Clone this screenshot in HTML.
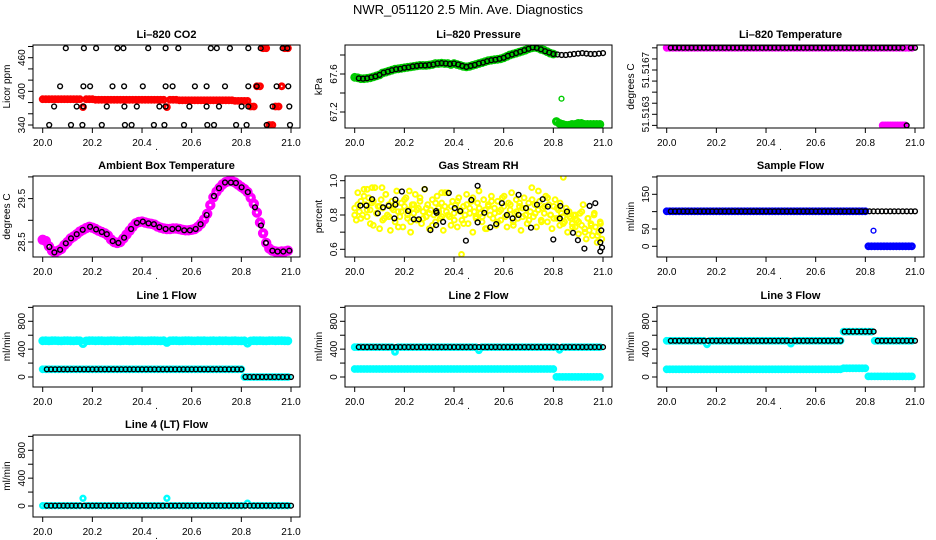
<!DOCTYPE html>
<html><head><meta charset="utf-8"><style>
html,body{margin:0;padding:0;background:#fff;}
svg{display:block;font-family:"Liberation Sans",Arial,sans-serif;}
</style></head><body>
<svg id="chart" width="936" height="540" viewBox="0 0 936 540" xmlns="http://www.w3.org/2000/svg">
<rect x="0" y="0" width="936" height="540" fill="#fff"/>
<text x="468" y="14" text-anchor="middle" font-size="13">NWR_051120  2.5 Min. Ave. Diagnostics</text>
</svg>
<script>
// ---- data (uniform series: t = 20 + i/(n-1)) ----
const xTicks = [20.0, 20.2, 20.4, 20.6, 20.8, 21.0];
const xTickLabels = ["20.0", "20.2", "20.4", "20.6", "20.8", "21.0"];

const co2BlackT = [20.093,20.166,20.215,20.301,20.325,20.425,20.495,20.546,20.677,20.701,20.754,20.828,20.878,20.966,20.985,
 20.070,20.164,20.191,20.281,20.328,20.403,20.495,20.523,20.613,20.660,20.734,20.828,20.862,20.942,20.989,
 20.046,20.137,20.164,20.258,20.329,20.379,20.470,20.495,20.591,20.660,20.710,20.801,20.828,20.926,20.993,
 20.026,20.114,20.160,20.238,20.331,20.358,20.448,20.490,20.569,20.663,20.690,20.779,20.821,20.902,20.996];
const co2BlackV = [477,477,477,477,477,477,477,477,477,477,477,477,477,477,477,
 409,409,409,409,409,409,409,409,409,409,409,409,409,409,409,
 373,373,373,373,373,373,373,373,373,373,373,373,373,373,373,
 340,340,340,340,340,340,340,340,340,340,340,340,340,340,340];
const co2Red = [386,386,386,386,386,386,386,386,386,386, 386,386,386,372,386,386,386,385,385,385,
 385,385,385,385,385,385,385,385,385,385, 385,385,385,385,385,385,385,385,385,385,
 372,385,385,385,384,384,384,384,384,384, 384,384,384,384,384,384,384,384,384,384,
 384,384,383,383,383,383,383,373,373,409, 409,477,477,340,340,373,373,409,477,477, null];

const presGreen = [67.565,67.56,67.55,67.55,67.555,67.56,67.57,67.58,67.59,67.61,
 67.62,67.63,67.64,67.65,67.655,67.66,67.665,67.67,67.675,67.68,
 67.685,67.69,67.69,67.69,67.695,67.70,67.71,67.71,67.715,67.71,
 67.71,67.70,67.71,67.70,67.69,67.68,67.675,67.68,67.69,67.70,
 67.71,67.72,67.73,67.74,67.745,67.75,67.755,67.76,67.77,67.785,
 67.80,67.81,67.82,67.83,67.84,67.85,67.865,67.875,67.88,67.875,
 67.86,67.85,67.835,67.82,67.81,67.10,67.08,67.07,67.06,67.06,
 67.07,67.07,67.08,67.08,67.07,67.07,67.07,67.07,67.07,67.07, null];
const presGreenOutT = [20.833];
const presGreenOutV = [67.34];
const presBlack = [null,67.555,67.55,67.555,67.565,67.575,67.59,67.615,67.625,67.64,
 67.65,67.655,67.665,67.67,67.68,67.685,67.69,67.69,67.695,67.70,
 67.71,67.715,67.71,67.705,67.71,67.70,67.685,67.675,67.685,67.695,
 67.71,67.72,67.735,67.745,67.75,67.76,67.77,67.79,67.805,67.82,
 67.835,67.85,67.865,67.88,67.875,67.86,67.84,67.825,67.81,67.805,
 67.80,67.80,67.805,67.81,67.815,67.82,67.815,67.81,67.81,67.815,67.82];

const tempMag = [51.5169,51.5169,51.5169,51.5169,51.5169,51.5169,51.5169,51.5169,51.5169,51.5169,
 51.5169,51.5169,51.5169,51.5169,51.5169,51.5169,51.5169,51.5169,51.5169,51.5169,
 51.5169,51.5169,51.5169,51.5169,51.5169,51.5169,51.5169,51.5169,51.5169,51.5169,
 51.5169,51.5169,51.5169,51.5169,51.5169,51.5169,51.5169,51.5169,51.5169,51.5169,
 51.5169,51.5169,51.5169,51.5169,51.5169,51.5169,51.5169,51.5169,51.5169,51.5169,
 51.5169,51.5169,51.5169,51.5169,51.5169,51.5169,51.5169,51.5169,51.5169,51.5169,
 51.5169,51.5169,51.5169,51.5169,51.5169,51.5169,51.5169,51.5169,51.5169,51.5169,
 51.5169,51.5169,51.5169,51.5169,51.5169,51.5169,51.5169,51.5169,51.5169,51.5169, null];
const tempMagLowT = [20.87,20.88,20.89,20.90,20.91,20.92,20.93,20.94,20.95,20.96];
const tempMagLowV = [51.5162,51.5162,51.5162,51.5162,51.5162,51.5162,51.5162,51.5162,51.5162,51.5162];
const tempBlack = [null,51.5169,51.5169,51.5169,51.5169,51.5169,51.5169,51.5169,51.5169,51.5169,
 51.5169,51.5169,51.5169,51.5169,51.5169,51.5169,51.5169,51.5169,51.5169,51.5169,
 51.5169,51.5169,51.5169,51.5169,51.5169,51.5169,51.5169,51.5169,51.5169,51.5169,
 51.5169,51.5169,51.5169,51.5169,51.5169,51.5169,51.5169,51.5169,51.5169,51.5169,
 51.5169,51.5169,51.5169,51.5169,51.5169,51.5169,51.5169,51.5169,51.5169,51.5169,
 51.5169,51.5169,51.5169,51.5169,51.5169,51.5169,51.5169,51.5169,51.5162,51.5169,51.5169];

const ambMag = [28.55,28.52,28.40,28.30,28.26,28.30,28.34,28.43,28.50,28.58,
 28.63,28.68,28.74,28.78,28.82,28.85,28.83,28.80,28.76,28.73,
 28.70,28.65,28.56,28.50,28.48,28.50,28.58,28.67,28.76,28.85,
 28.93,28.96,28.97,28.95,28.93,28.92,28.90,28.86,28.83,28.81,
 28.80,28.80,28.81,28.81,28.80,28.78,28.77,28.77,28.78,28.80,
 28.85,28.92,29.02,29.15,29.35,29.53,29.66,29.75,29.83,29.88,
 29.90,29.90,29.87,29.82,29.77,29.72,29.65,29.52,29.38,29.18,
 28.95,28.70,28.48,28.35,28.30,28.28,28.27,28.28,28.28,28.30, null];
const ambBlackT = [20.027,20.047,20.070,20.093,20.114,20.137,20.161,20.191,20.215,20.238,20.258,20.282,20.305,20.328,20.356,20.379,20.403,20.426,20.448,20.470,
 20.495,20.522,20.546,20.570,20.593,20.616,20.636,20.660,20.690,20.710,20.734,20.758,20.778,20.801,20.826,20.855,20.879,20.899,20.925,20.946,20.969,20.993];
const ambBlackV = [28.385,28.26,28.32,28.47,28.585,28.68,28.78,28.85,28.79,28.73,28.68,28.52,28.48,28.60,28.80,28.94,28.97,28.93,28.91,28.84,
 28.80,28.80,28.81,28.77,28.77,28.80,28.91,29.12,29.56,29.74,29.87,29.87,29.86,29.76,29.65,29.30,28.88,28.48,28.30,28.28,28.28,28.30];

const rhYellow = [0.84,0.77,0.93,0.82,0.88,0.80,0.95,0.86,0.79,0.90,0.83,0.87,0.74,0.96,0.81,0.85,0.72,0.89,0.84,0.78,
 0.92,0.80,0.86,0.71,0.88,0.83,0.76,0.94,0.82,0.79,0.87,0.73,0.85,0.90,0.78,0.83,0.70,0.86,0.81,0.92,
 0.77,0.84,0.88,0.75,0.82,0.95,0.79,0.86,0.72,0.83,0.89,0.80,0.76,0.91,0.84,0.78,0.87,0.71,0.85,0.82,
 0.93,0.79,0.74,0.88,0.81,0.86,0.73,0.90,0.83,0.77,0.85,0.80,0.92,0.75,0.84,0.88,0.70,0.82,0.79,0.87,
 0.94,0.81,0.76,0.89,0.83,0.72,0.86,0.80,0.91,0.78,0.84,0.74,0.88,0.82,0.77,0.90,0.85,0.79,0.73,0.87,
 0.83,0.93,0.76,0.81,0.89,0.78,0.85,0.71,0.84,0.90,0.80,0.75,0.87,0.82,0.96,0.79,0.86,0.73,0.83,0.88,
 0.77,0.84,0.81,0.91,0.76,0.86,0.80,0.72,0.85,0.89,0.78,0.83,0.74,0.81,0.79,0.76,0.84,0.70,0.82,0.78,
 0.75,0.80,0.73,0.77,0.69,0.81,0.74,0.86,0.72,0.66,0.78,0.71,0.75,0.68,0.80,0.73,0.64,0.70,0.76,0.66];
const rhYellowB = [0.80,0.86,0.78,0.91,0.83,0.75,0.88,0.81,0.85,0.77,0.92,0.79,0.84,0.87,0.73,0.82,0.89,0.80,0.76,0.86,
 0.83,0.90,0.78,0.84,0.81,0.74,0.87,0.82,0.79,0.93,0.80,0.85,0.77,0.88,0.82,0.75,0.86,0.81,0.90,0.78,
 0.84,0.79,0.72,0.85,0.88,0.81,0.76,0.83,0.91,0.80,0.86,0.74,0.82,0.87,0.79,0.84,0.77,0.89,0.81,0.83,
 0.76,0.85,0.90,0.80,0.78,0.84,0.87,0.75,0.82,0.79,0.73,0.80,0.76,0.82,0.70,0.78,0.74,0.81,0.68,0.75];
const rhYellowOutT = [20.43,20.84,20.05,20.07,20.11,20.74,20.35,20.22];
const rhYellowOutV = [0.57,1.02,0.95,0.96,0.96,0.94,0.93,0.94];
const rhBlackT = [20.023,20.047,20.070,20.093,20.114,20.137,20.160,20.164,20.164,20.190,20.215,20.238,20.258,20.282,20.305,20.328,20.328,20.330,20.356,20.379,
 20.403,20.425,20.448,20.470,20.495,20.495,20.522,20.546,20.570,20.593,20.613,20.636,20.660,20.660,20.690,20.710,20.734,20.757,20.778,20.800,
 20.826,20.828,20.855,20.879,20.899,20.925,20.946,20.969,20.993,20.989,20.989,20.996];
const rhBlackV = [0.855,0.855,0.892,0.81,0.845,0.853,0.78,0.89,0.86,0.937,0.823,0.775,0.775,0.951,0.712,0.823,0.741,0.813,0.76,0.928,
 0.84,0.823,0.65,0.888,0.757,0.97,0.813,0.728,0.747,0.869,0.80,0.78,0.80,0.918,0.84,0.726,0.86,0.892,0.849,0.657,
 0.78,0.853,0.82,0.696,0.653,0.604,0.853,0.869,0.71,0.64,0.588,0.61];

const sfBlue = [101,101,101,101,101,101,101,101,101,101, 101,101,101,101,101,101,101,101,101,101,
 101,101,101,101,101,101,101,101,101,101, 101,101,101,101,101,101,101,101,101,101,
 101,101,101,101,101,101,101,101,101,101, 101,101,101,101,101,101,101,101,101,101,
 101,101,101,101,101,0,0,0,0,0, 0,0,0,0,0,0,0,0,0,0, null];
const sfBlueOutT = [20.833];
const sfBlueOutV = [45];
const sfBlack = [null,101,101,101,101,101,101,101,101,101, 101,101,101,101,101,101,101,101,101,101,
 101,101,101,101,101,101,101,101,101,101, 101,101,101,101,101,101,101,101,101,101,
 101,101,101,101,101,101,101,101,101,101, 101,101,101,101,101,101,101,101,101,101,101];

const l1CyanA = [520,522,518,521,523,520,519,522,521,520, 518,522,520,480,519,521,523,520,522,521,
 519,520,522,521,520,518,521,523,520,519, 522,521,520,518,520,522,521,520,519,521,
 495,520,522,521,518,520,521,523,520,519, 522,520,521,518,520,522,519,521,520,522,
 518,520,521,519,518,520,485,519,521,520, 522,520,519,521,523,520,522,521,520,519, null];
const l1CyanB = [110,110,110,110,110,110,110,110,110,110, 110,110,110,110,110,110,110,110,110,110,
 110,110,110,110,110,110,110,110,110,110, 110,110,110,110,110,110,110,110,110,110,
 110,110,110,110,110,110,110,110,110,110, 110,110,110,110,110,110,110,110,110,110,
 110,110,110,110,110,0,0,0,0,0, 0,0,0,0,0,0,0,0,0,0, null];
const l1Black = [null,110,110,110,110,110,110,110,110,110, 110,110,110,110,110,110,110,110,110,110,
 110,110,110,110,110,110,110,110,110,110, 110,110,110,110,110,110,110,110,110,110,
 110,110,110,110,110,110,110,110,110,0, 0,0,0,0,0,0,0,0,0,0,0];

const l2CyanA = [430,430,430,430,430,430,430,430,430,430, 430,430,430,360,430,430,430,430,430,430,
 430,430,430,430,430,430,430,430,430,430, 430,430,430,430,430,430,430,430,430,430,
 385,430,430,430,430,430,430,430,430,430, 430,430,430,430,430,430,430,430,430,430,
 430,430,430,430,430,430,390,430,430,430, 430,430,430,430,430,430,430,430,430,430, null];
const l2CyanB = [115,115,115,115,115,115,115,115,115,115, 115,115,115,115,115,115,115,115,115,115,
 115,115,115,115,115,115,115,115,115,115, 115,115,115,115,115,115,115,115,115,115,
 115,115,115,115,115,115,115,115,115,115, 115,115,115,115,115,115,115,115,115,115,
 115,115,115,115,115,2,2,2,2,2, 2,2,2,2,2,2,2,2,2,2, null];
const l2Black = [null,430,430,430,430,430,430,430,430,430, 430,430,430,430,430,430,430,430,430,430,
 430,430,430,430,430,430,430,430,430,430, 430,430,430,430,430,430,430,430,430,430,
 430,430,430,430,430,430,430,430,430,430, 430,430,430,430,430,430,430,430,430,430,430];

const l3CyanA = [520,520,520,520,520,520,520,520,520,520, 520,520,520,470,520,520,520,520,520,520,
 520,520,520,520,520,520,520,520,520,520, 520,520,520,520,520,520,520,520,520,520,
 480,520,520,520,520,520,520,520,520,520, 520,520,520,520,520,520,520,652,652,652,
 652,652,652,652,652,652,652,520,520,520, 520,520,520,520,520,520,520,520,520,520, null];
const l3CyanB = [110,110,110,110,110,110,110,110,110,110, 110,110,110,110,110,110,110,110,110,110,
 110,110,110,110,110,110,110,110,110,110, 110,110,110,110,110,110,110,110,110,110,
 110,110,110,110,110,110,110,110,110,110, 110,110,110,110,110,110,110,125,125,125,
 125,125,125,125,125,8,8,8,8,8, 8,8,8,8,8,8,8,8,8,8, null];
const l3Black = [null,520,520,520,520,520,520,520,520,520, 520,520,520,520,520,520,520,520,520,520,
 520,520,520,520,520,520,520,520,520,520, 520,520,520,520,520,520,520,520,520,520,
 520,520,520,652,652,652,652,652,652,652, 652,520,520,520,520,520,520,520,520,520,520];

const l4Cyan = [5,5,5,5,5,5,5,5,5,5, 5,5,5,110,5,5,5,5,5,5,
 5,5,5,5,5,5,5,5,5,5, 5,5,5,5,5,5,5,5,5,5,
 110,5,5,5,5,5,5,5,5,5, 5,5,5,5,5,5,5,5,5,5,
 5,5,5,5,5,5,40,5,5,5, 5,5,5,5,5,5,5,5,5,5, null];
const l4Black = [null,5,5,5,5,5,5,5,5,5, 5,5,5,5,5,5,5,5,5,5,
 5,5,5,5,5,5,5,5,5,5, 5,5,5,5,5,5,5,5,5,5,
 5,5,5,5,5,5,5,5,5,5, 5,5,5,5,5,5,5,5,5,5,5];

const flowTicks = [0,200,400,600,800,1000];
const flowLabels = ["0","400","800"];

// ---- rendering ----
const NS = "http://www.w3.org/2000/svg";
const svg = document.getElementById("chart");
function mk(tag, attrs, parent){ const e = document.createElementNS(NS, tag); for (const k in attrs) e.setAttribute(k, attrs[k]); (parent||svg).appendChild(e); return e; }
function uniT(arr, span){ return arr.map((_, i) => 20 + (i/(arr.length-1))*(span||1)); }

const panels = [
 {name:"li820-co2", title:"Li\u2013820 CO2", ylab:"Licor ppm", col:0, row:0, ref:[340,125,460,57.7], ticks:[340,360,380,400,420,440,460,480], labels:["340","400","460"],
  series:[{t:uniT(co2Red), v:co2Red, c:"#ff0000", sw:3}, {t:co2BlackT, v:co2BlackV, c:"#000"}]},
 {name:"li820-pressure", title:"Li\u2013820 Pressure", ylab:"kPa", col:1, row:0, ref:[67.2,112,67.6,74], ticks:[67.2,67.4,67.6,67.8], labels:["67.2","67.6"],
  series:[{t:uniT(presGreen), v:presGreen, c:"#00cc00", sw:3.2, r:2.8}, {t:presGreenOutT, v:presGreenOutV, c:"#00cc00"}, {t:uniT(presBlack), v:presBlack, c:"#000"}]},
 {name:"li820-temperature", title:"Li\u2013820 Temperature", ylab:"degrees C", col:2, row:0, ref:[51.5163,114.3,51.5167,70], ticks:[51.5162,51.5163,51.5164,51.5165,51.5166,51.5167,51.5168,51.5169], labels:["51.5163","51.5167"],
  series:[{t:uniT(tempMag), v:tempMag, c:"#ff00ff", sw:3}, {t:tempMagLowT, v:tempMagLowV, c:"#ff00ff", sw:3}, {t:uniT(tempBlack), v:tempBlack, c:"#000"}]},
 {name:"ambient-box-temperature", title:"Ambient Box Temperature", ylab:"degrees C", col:0, row:1, ref:[28.5,242,29.5,198.6], ticks:[28.5,29.0,29.5,30.0], labels:["28.5","29.5"],
  series:[{t:uniT(ambMag), v:ambMag, c:"#ff00ff", sw:4, r:3.2}, {t:ambBlackT, v:ambBlackV, c:"#000"}]},
 {name:"gas-stream-rh", title:"Gas Stream RH", ylab:"percent", col:1, row:1, ref:[0.6,249.3,1.0,180.7], ticks:[0.6,0.7,0.8,0.9,1.0], labels:["0.6","0.8","1.0"],
  series:[{t:uniT(rhYellow,0.995), v:rhYellow, c:"#ffff00", sw:2}, {t:uniT(rhYellowB,0.99), v:rhYellowB, c:"#ffff00", sw:2}, {t:rhYellowOutT, v:rhYellowOutV, c:"#ffff00", sw:2}, {t:rhBlackT, v:rhBlackV, c:"#000"}]},
 {name:"sample-flow", title:"Sample Flow", ylab:"ml/min", col:2, row:1, ref:[0,246.3,150,194.3], ticks:[0,50,100,150,200], labels:["0","50","150"],
  series:[{t:uniT(sfBlue), v:sfBlue, c:"#0000ff", sw:3}, {t:sfBlueOutT, v:sfBlueOutV, c:"#0000ff"}, {t:uniT(sfBlack), v:sfBlack, c:"#000"}]},
 {name:"line-1-flow", title:"Line 1 Flow", ylab:"ml/min", col:0, row:2, ref:[0,377,800,321.3], ticks:flowTicks, labels:flowLabels,
  series:[{t:uniT(l1CyanA), v:l1CyanA, c:"#00ffff", sw:3.2, r:2.8}, {t:uniT(l1CyanB), v:l1CyanB, c:"#00ffff", sw:3}, {t:uniT(l1Black), v:l1Black, c:"#000"}]},
 {name:"line-2-flow", title:"Line 2 Flow", ylab:"ml/min", col:1, row:2, ref:[0,377,800,321.3], ticks:flowTicks, labels:flowLabels,
  series:[{t:uniT(l2CyanA), v:l2CyanA, c:"#00ffff", sw:3}, {t:uniT(l2CyanB), v:l2CyanB, c:"#00ffff", sw:3}, {t:uniT(l2Black), v:l2Black, c:"#000"}]},
 {name:"line-3-flow", title:"Line 3 Flow", ylab:"ml/min", col:2, row:2, ref:[0,377,800,321.3], ticks:flowTicks, labels:flowLabels,
  series:[{t:uniT(l3CyanA), v:l3CyanA, c:"#00ffff", sw:3}, {t:uniT(l3CyanB), v:l3CyanB, c:"#00ffff", sw:3}, {t:uniT(l3Black), v:l3Black, c:"#000"}]},
 {name:"line-4-lt-flow", title:"Line 4 (LT) Flow", ylab:"ml/min", col:0, row:3, ref:[0,506,800,450.3], ticks:flowTicks, labels:flowLabels,
  series:[{t:uniT(l4Cyan), v:l4Cyan, c:"#00ffff", sw:2.5}, {t:uniT(l4Black), v:l4Black, c:"#000"}]}
];
const rowBox = [[45,128],[176,257],[306,387],[435,517]];

panels.forEach((p, pi) => {
  const off = p.col*312;
  const bx0 = 33+off, bx1 = 300+off;
  const [by0, by1] = rowBox[p.row];
  const xs = t => 42.7+off + (t-20)*248.3;
  const ys = v => p.ref[1] + (v-p.ref[0])*(p.ref[3]-p.ref[1])/(p.ref[2]-p.ref[0]);
  const g = mk("g", {});
  
  
  const clipId = "clip"+pi;
  const cp = mk("clipPath", {id:clipId}, g);
  mk("rect", {x:bx0, y:by0, width:bx1-bx0, height:by1-by0}, cp);
  const title = mk("text", {x:(bx0+bx1)/2, y:by0-7, "text-anchor":"middle", "font-size":"11", "font-weight":"bold"}, g);
  title.textContent = p.title;
  
  
  const yl = mk("text", {x:0, y:0, transform:`translate(${10+off},${(by0+by1)/2}) rotate(-90)`, "text-anchor":"middle", "font-size":"10"}, g);
  yl.textContent = p.ylab;
  
  
  const xd = mk("text", {x:(bx0+bx1)/2-10, y:by1+22, "text-anchor":"middle", "font-size":"10"}, g);
  xd.textContent = ".";
  
  
  const pts = mk("g", {"clip-path":`url(#${clipId})`, fill:"none"}, g);
  
  
  p.series.forEach(s => {
    s.v.forEach((v, i) => {
      if (v === null || v === undefined) return;
      const c = mk("circle", {cx:xs(s.t[i]).toFixed(1), cy:ys(v).toFixed(1), r:s.r||2.4, stroke:s.c, "stroke-width":s.sw||1.4}, pts);
      
      
    });
  });
  const box = mk("rect", {x:bx0, y:by0, width:bx1-bx0, height:by1-by0, fill:"none", stroke:"#000", "stroke-width":1}, g);
  
  
  mk("line", {x1:xs(20), x2:xs(21), y1:by1, y2:by1, stroke:"#000"}, g);
  xTicks.forEach((t, i) => {
    mk("line", {x1:xs(t), x2:xs(t), y1:by1, y2:by1+5, stroke:"#000"}, g);
    const tl = mk("text", {x:xs(t), y:by1+18, "text-anchor":"middle", "font-size":"10"}, g);
    tl.textContent = xTickLabels[i];
    
    
  });
  p.ticks.forEach(v => {
    const y = ys(v);
    if (y < by0-1 || y > by1+1) return;
    mk("line", {x1:bx0-5, x2:bx0, y1:y, y2:y, stroke:"#000"}, g);
  });
  p.labels.forEach(lbl => {
    const y = ys(parseFloat(lbl));
    const tl = mk("text", {x:0, y:0, transform:`translate(${bx0-8},${y}) rotate(-90)`, "text-anchor":"middle", "font-size":"10"}, g);
    tl.textContent = lbl;
    
    
  });
});
</script>
</body></html>
